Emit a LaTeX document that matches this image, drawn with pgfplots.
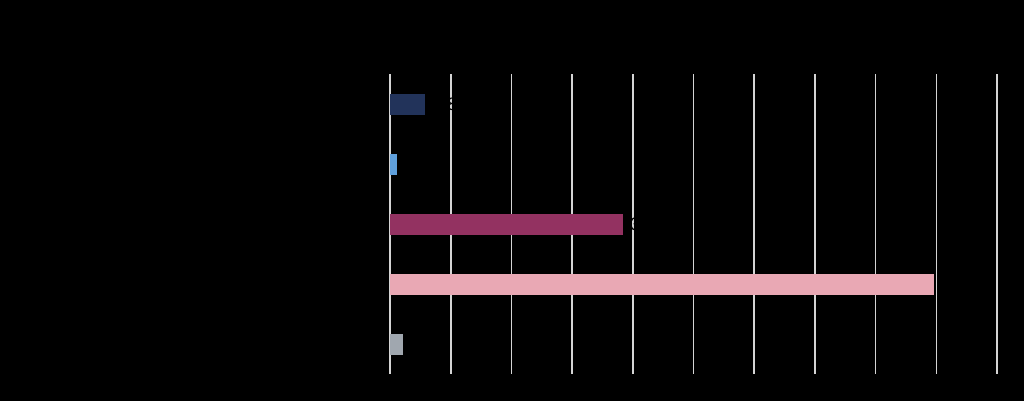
\documentclass[border=0pt]{standalone}
\usepackage{pgfplots}
\pgfplotsset{compat=1.18}
\usetikzlibrary{backgrounds}
\usepackage{fontspec}
\setmainfont{Liberation Sans}

\definecolor{barA}{HTML}{22335A}
\definecolor{barB}{HTML}{5FA0DC}
\definecolor{barC}{HTML}{933261}
\definecolor{barD}{HTML}{E9A8B4}
\definecolor{barE}{HTML}{A0A7AF}
\definecolor{gridc}{HTML}{D4D4D4}

\begin{document}
\begin{tikzpicture}[
    show background rectangle,
    background rectangle/.style={fill=black,draw=none},
    inner frame sep=0pt]
  % 1 px of the reference = 0.5pt
  \useasboundingbox (0pt,0pt) rectangle (512pt,200.5pt);
  \begin{axis}[
      at={(195pt,13.5pt)}, anchor=south west,
      scale only axis,
      width=303.5pt, height=150pt,
      xbar, bar shift=0pt, bar width=0.35,
      xmin=0, xmax=100,
      ymin=0.5, ymax=5.5, y dir=reverse,
      xtick={0,10,...,100},
      ytick=\empty,
      xmajorgrids,
      grid style={gridc, line width=0.8pt},
      axis line style={draw=none},
      major tick length=0pt,
      tick label style={font=\small, text=black},
      /pgf/number format/assume math mode=true,
      nodes near coords,
      nodes near coords style={font=\small, text=black, anchor=west},
      every axis plot/.append style={draw=none},
    ]
    \addplot[fill=barA] coordinates {(5.8,1)};
    \addplot[fill=barB] coordinates {(1.2,2)};
    \addplot[fill=barC] coordinates {(38.4,3)};
    \addplot[fill=barD] coordinates {(89.6,4)};
    \addplot[fill=barE] coordinates {(2.1,5)};
  \end{axis}
\end{tikzpicture}
\end{document}
